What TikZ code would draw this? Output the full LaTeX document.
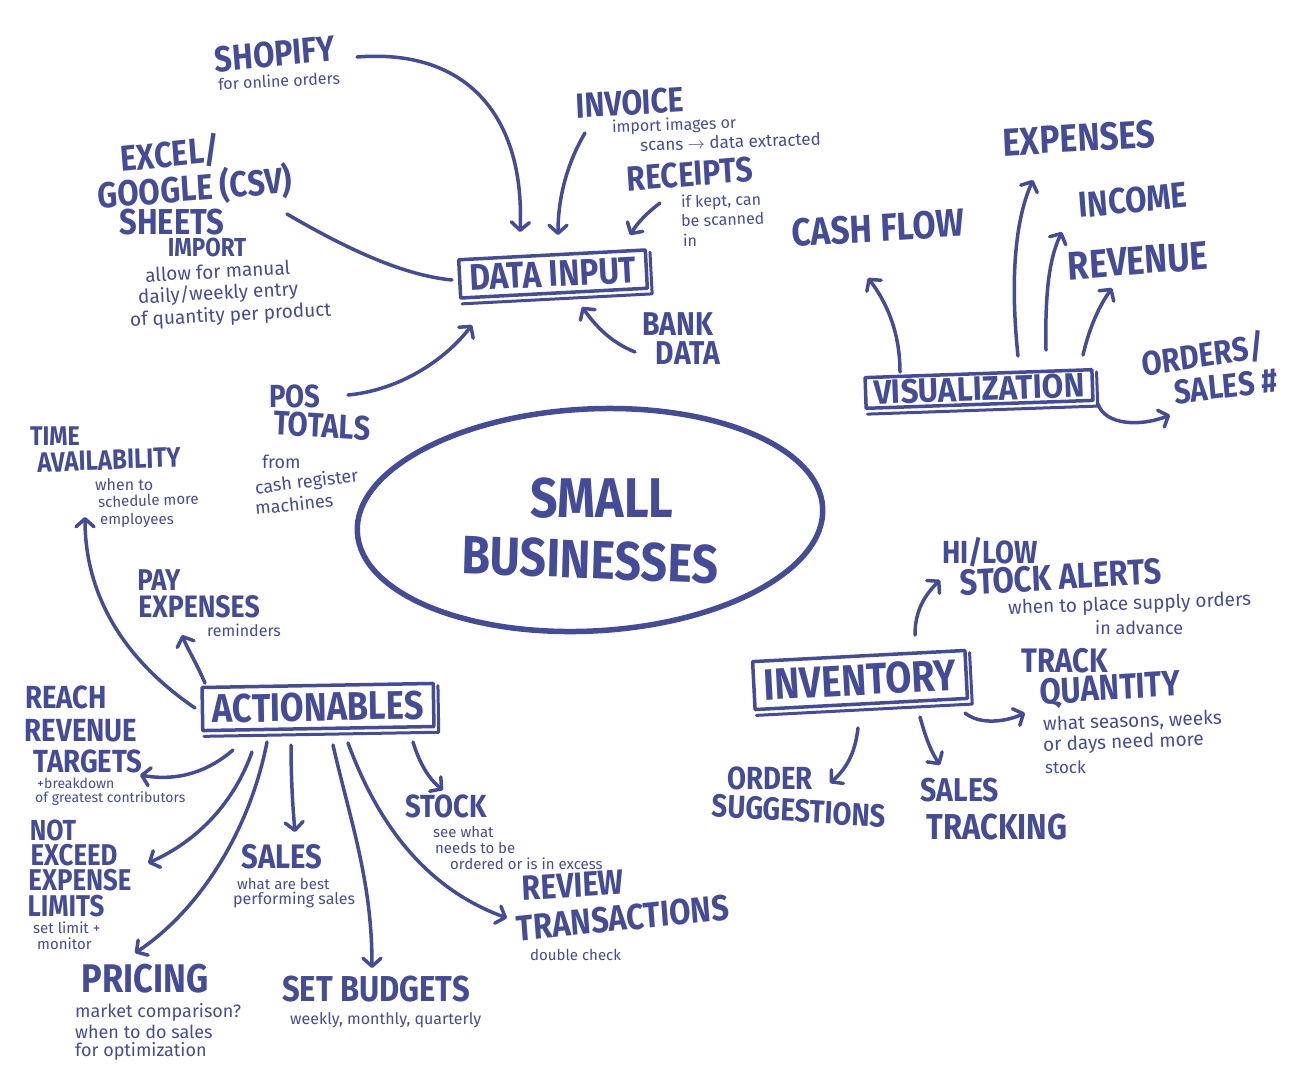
\documentclass[tikz,border=0pt]{standalone}
\usepackage{fontspec}
\setmainfont{Fira Sans}
\usetikzlibrary{arrows.meta}
\definecolor{ink}{RGB}{68,76,154}
\begin{document}
\begin{tikzpicture}[x=1pt,y=-1pt,color=ink,line cap=round,line join=round,
  hd/.style={font=\fontsize{#1}{#1}\selectfont\bfseries,inner sep=0pt,xscale=0.86},
  sm/.style={font=\fontsize{#1}{#1}\selectfont,inner sep=0pt,anchor=west},
  arr/.style={line width=3.5pt,-{Straight Barb[length=8pt,width=18pt,round]}},
  lnk/.style={line width=3.5pt},
  boxed/.style={draw,line width=3.5pt,inner xsep=10pt,inner ysep=6pt},
  shade/.style={line width=3pt}]
\useasboundingbox[fill=white] (0,0) rectangle (1292,1072);

% ---------- centre ----------
\draw[line width=5.5pt,rotate around={3:(590,520)}] (590,520) ellipse [x radius=233pt,y radius=111pt];
\node[hd=56] (small) at (602,498) {SMALL};
\node[hd=54,rotate=-2] (bus) at (590,560) {BUSINESSES};

% ---------- DATA INPUT ----------
\node[boxed,rotate=3,font=\fontsize{37}{37}\selectfont\bfseries] (dat) at (553,274) {\scalebox{0.86}[1]{DATA INPUT}};
\draw[shade] ([shift={(3pt,-4pt)}]dat.south west) -- ([shift={(3pt,-4pt)}]dat.south east) -- ([shift={(3pt,-4pt)}]dat.north east);

\node[hd=36,rotate=5] (shop) at (275,54) {SHOPIFY};
\node[sm=16,rotate=3] (shops) at (218,84) {for online orders};
\node[hd=35,rotate=3] (inv) at (630,103) {INVOICE};
\node[sm=16,rotate=2] (inv1) at (612,128) {import images or};
\node[sm=17,rotate=2] (inv2) at (640,145) {scans $\rightarrow$ data extracted};
\node[hd=35,rotate=4] (rec) at (690,174) {RECEIPTS};
\node[sm=16,rotate=2] (rec1) at (681,203) {if kept, can};
\node[sm=16,rotate=2] (rec2) at (681,221) {be scanned};
\node[sm=16] (rec3) at (683,240) {in};
\node[hd=36,rotate=5] (ex1) at (170,154) {EXCEL/};
\node[hd=36,rotate=4] (ex2) at (195,188) {GOOGLE (CSV)};
\node[hd=36] (ex3) at (172,222) {SHEETS};
\node[hd=26] (ex4) at (207,247) {IMPORT};
\node[sm=19,rotate=3] (ex5) at (145,275) {allow for manual};
\node[sm=19,rotate=3] (ex6) at (138,298) {daily/weekly entry};
\node[sm=19,rotate=3] (ex7) at (130,321) {of quantity per product};
\node[hd=33] (bank1) at (678,324) {BANK};
\node[hd=33] (bank2) at (688,353) {DATA};
\node[hd=32] (pos1) at (295,396) {POS};
\node[hd=34,rotate=-3] (pos2) at (322,426) {TOTALS};
\node[sm=18] (pos3) at (262,462) {from};
\node[sm=18,rotate=7] (pos4) at (255,489) {cash register};
\node[sm=18,rotate=6] (pos5) at (255,508) {machines};

\coordinate (a1s) at (357,57);  \coordinate (a1e) at (520,232);
\coordinate (a2s) at (585,133); \coordinate (a2e) at (558,235);
\coordinate (a3s) at (660,203); \coordinate (a3e) at (630,235);
\coordinate (a4s) at (287,214); \coordinate (a4e) at (452,280);
\coordinate (a5s) at (635,352); \coordinate (a5e) at (582,307);
\coordinate (a6s) at (348,395); \coordinate (a6e) at (472,325);
\draw[arr] (a1s) .. controls (470,48) and (525,120) .. (a1e);
\draw[arr] (a2s) .. controls (566,165) and (558,200) .. (a2e);
\draw[arr] (a3s) .. controls (648,212) and (638,222) .. (a3e);
\draw[lnk] (a4s) .. controls (340,245) and (400,275) .. (a4e);
\draw[arr] (a5s) .. controls (610,342) and (595,325) .. (a5e);
\draw[arr] (a6s) .. controls (400,390) and (445,360) .. (a6e);

% ---------- VISUALIZATION ----------
\node[boxed,rotate=2,inner ysep=3pt,inner xsep=8pt,font=\fontsize{34}{34}\selectfont\bfseries] (vis) at (979,389) {\scalebox{0.92}[1]{VISUALIZATION}};
\draw[shade] ([shift={(3pt,-4pt)}]vis.south west) -- ([shift={(3pt,-4pt)}]vis.south east) -- ([shift={(3pt,-4pt)}]vis.north east);
\node[hd=39,rotate=3] (cash) at (878,228) {CASH FLOW};
\node[hd=39,rotate=3] (expv) at (1079,138) {EXPENSES};
\node[hd=36,rotate=5] (inc) at (1133,200) {INCOME};
\node[hd=40,rotate=4] (rev) at (1138,261) {REVENUE};
\node[hd=34,rotate=8] (ord1) at (1203,355) {ORDERS/};
\node[hd=34,rotate=6] (ord2) at (1226,386) {SALES \#};
\coordinate (v1s) at (900,372);  \coordinate (v1e) at (868,278);
\coordinate (v2s) at (1018,356); \coordinate (v2e) at (1033,180);
\coordinate (v3s) at (1046,350); \coordinate (v3e) at (1062,232);
\coordinate (v4s) at (1083,355); \coordinate (v4e) at (1112,288);
\coordinate (v5s) at (1098,404); \coordinate (v5e) at (1170,415);
\draw[arr] (v1s) .. controls (900,330) and (885,300) .. (v1e);
\draw[arr] (v2s) .. controls (1010,280) and (1015,220) .. (v2e);
\draw[arr] (v3s) .. controls (1045,300) and (1048,260) .. (v3e);
\draw[arr] (v4s) .. controls (1090,325) and (1100,305) .. (v4e);
\draw[arr] (v5s) .. controls (1105,425) and (1140,427) .. (v5e);

% ---------- INVENTORY ----------
\node[boxed,rotate=3,inner ysep=8pt,font=\fontsize{44}{44}\selectfont\bfseries] (inv0) at (860,680) {\scalebox{0.86}[1]{INVENTORY}};
\draw[shade] ([shift={(3pt,-4pt)}]inv0.south west) -- ([shift={(3pt,-4pt)}]inv0.south east) -- ([shift={(3pt,-4pt)}]inv0.north east);
\node[hd=32] (hi1) at (990,552) {HI/LOW};
\node[hd=36,rotate=3] (hi2) at (1061,577) {STOCK ALERTS};
\node[sm=19,rotate=2] (hi3) at (1008,609) {when to place supply orders};
\node[sm=18] (hi4) at (1095,628) {in advance};
\node[hd=34] (tr1) at (1065,661) {TRACK};
\node[hd=36,rotate=3] (tr2) at (1110,690) {QUANTITY};
\node[sm=19,rotate=2] (tr3) at (1043,725) {what seasons, weeks};
\node[sm=19,rotate=2] (tr4) at (1043,746) {or days need more};
\node[sm=17] (tr5) at (1045,767) {stock};
\node[hd=32] (os1) at (770,778) {ORDER};
\node[hd=32,rotate=-3] (os2) at (799,811) {SUGGESTIONS};
\node[hd=33] (st1) at (960,790) {SALES};
\node[hd=36] (st2) at (997,827) {TRACKING};
\coordinate (i1s) at (915,635); \coordinate (i1e) at (940,580);
\coordinate (i2s) at (965,713); \coordinate (i2e) at (1025,713);
\coordinate (i3s) at (858,728); \coordinate (i3e) at (830,783);
\coordinate (i4s) at (920,717); \coordinate (i4e) at (940,765);
\draw[arr] (i1s) .. controls (915,610) and (925,595) .. (i1e);
\draw[arr] (i2s) .. controls (980,725) and (1005,722) .. (i2e);
\draw[arr] (i3s) .. controls (855,755) and (845,770) .. (i3e);
\draw[arr] (i4s) .. controls (925,735) and (930,750) .. (i4e);

% ---------- ACTIONABLES ----------
\node[boxed,rotate=1,inner ysep=7pt,font=\fontsize{40}{40}\selectfont\bfseries] (act) at (318,707) {\scalebox{0.86}[1]{ACTIONABLES}};
\draw[shade] ([shift={(3pt,-4pt)}]act.south west) -- ([shift={(3pt,-4pt)}]act.south east) -- ([shift={(3pt,-4pt)}]act.north east);
\node[hd=27] (ta1) at (55,436) {TIME};
\node[hd=28,rotate=2] (ta2) at (109,460) {AVAILABILITY};
\node[sm=16] (ta3) at (95,485) {when to};
\node[sm=15,rotate=2] (ta4) at (98,502) {schedule more};
\node[sm=15] (ta5) at (100,520) {employees};
\node[hd=30] (pe1) at (159,580) {PAY};
\node[hd=31] (pe2) at (199,607) {EXPENSES};
\node[sm=16] (pe3) at (207,630) {reminders};
\node[hd=32] (rr1) at (66,697) {REACH};
\node[hd=32] (rr2) at (81,731) {REVENUE};
\node[hd=32] (rr3) at (88,761) {TARGETS};
\node[sm=14] (rr4) at (37,783) {+breakdown};
\node[sm=14] (rr5) at (35,799) {of greatest contributors};
\node[hd=29] (ne1) at (53,830) {NOT};
\node[hd=30] (ne2) at (74,855) {EXCEED};
\node[hd=30] (ne3) at (80,880) {EXPENSE};
\node[hd=30] (ne4) at (66,906) {LIMITS};
\node[sm=15] (ne5) at (33,928) {set limit +};
\node[sm=15] (ne6) at (37,944) {monitor};
\node[hd=40] (pr1) at (145,979) {PRICING};
\node[sm=18] (pr2) at (75,1012) {market comparison?};
\node[sm=18] (pr3) at (75,1032) {when to do sales};
\node[sm=18] (pr4) at (75,1051) {for optimization};
\node[hd=34] (sa1) at (282,857) {SALES};
\node[sm=15] (sa2) at (237,884) {what are best};
\node[sm=16] (sa3) at (233,900) {performing sales};
\node[hd=36] (sb1) at (376,989) {SET BUDGETS};
\node[sm=16] (sb2) at (290,1020) {weekly, monthly, quarterly};
\node[hd=32] (sk1) at (446,806) {STOCK};
\node[sm=15] (sk2) at (433,832) {see what};
\node[sm=15] (sk3) at (435,848) {needs to be};
\node[sm=15] (sk4) at (450,864) {ordered or is in excess};
\node[hd=35,rotate=3] (rt1) at (573,885) {REVIEW};
\node[hd=36,rotate=5] (rt2) at (623,918) {TRANSACTIONS};
\node[sm=15] (rt3) at (530,955) {double check};
\coordinate (c1s) at (195,708); \coordinate (c1e) at (85,517);
\coordinate (c2s) at (205,683); \coordinate (c2e) at (182,635);
\coordinate (c3s) at (233,750); \coordinate (c3e) at (140,775);
\coordinate (c4s) at (252,752); \coordinate (c4e) at (148,863);
\coordinate (c5s) at (267,742); \coordinate (c5e) at (135,953);
\coordinate (c6s) at (291,745); \coordinate (c6e) at (295,832);
\coordinate (c7s) at (333,745); \coordinate (c7e) at (372,968);
\coordinate (c8s) at (413,742); \coordinate (c8e) at (443,790);
\coordinate (c9s) at (348,743); \coordinate (c9e) at (507,918);
\draw[arr] (c1s) .. controls (110,650) and (85,580) .. (c1e);
\draw[arr] (c2s) .. controls (195,660) and (188,650) .. (c2e);
\draw[arr] (c3s) .. controls (210,770) and (180,782) .. (c3e);
\draw[arr] (c4s) .. controls (235,800) and (200,840) .. (c4e);
\draw[arr] (c5s) .. controls (250,830) and (200,910) .. (c5e);
\draw[arr] (c6s) .. controls (291,780) and (293,810) .. (c6e);
\draw[arr] (c7s) .. controls (350,820) and (372,880) .. (c7e);
\draw[arr] (c8s) .. controls (420,765) and (430,780) .. (c8e);
\draw[arr] (c9s) .. controls (380,830) and (430,890) .. (c9e);
\end{tikzpicture}
\end{document}
